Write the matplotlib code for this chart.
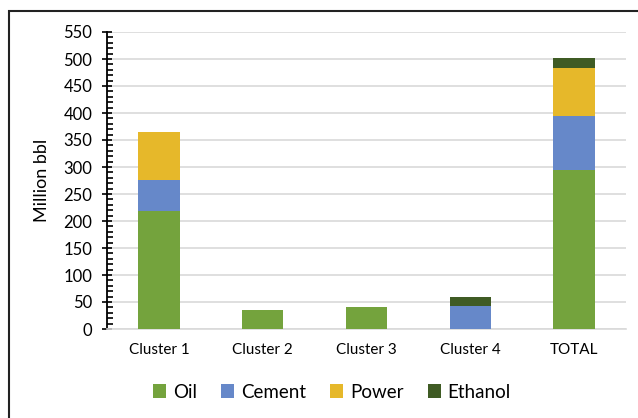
import numpy as np
import matplotlib
matplotlib.use("Agg")
import matplotlib.pyplot as plt
from matplotlib.ticker import MultipleLocator
from matplotlib.patches import Rectangle

categories = ["Cluster 1", "Cluster 2", "Cluster 3", "Cluster 4", "TOTAL"]
oil = [219, 35, 40, 0, 294]
cement = [57, 0, 0, 43, 101]
power = [89, 0, 0, 0, 88]
ethanol = [0, 0, 0, 17, 19]

series = ["Oil", "Cement", "Power", "Ethanol"]
colors = ["#74A33D", "#6688C9", "#E6B82A", "#3F5B24"]

plt.rcParams['font.family'] = ['Lato', 'DejaVu Sans']

fig = plt.figure(figsize=(6.38, 4.18), dpi=100)
W, H = 638, 418
ax = fig.add_axes([107 / W, 1 - 329 / H, (626 - 107) / W, (329 - 32) / H])

x = np.arange(len(categories))
bottom = np.zeros(len(categories))
for name, vals, c in zip(series, [oil, cement, power, ethanol], colors):
    ax.bar(x, vals, 0.4, bottom=bottom, color=c, label=name, zorder=3)
    bottom += np.array(vals)

ax.set_xlim(-0.5, 4.5)
ax.set_ylim(0, 550)
ax.yaxis.set_major_locator(MultipleLocator(50))
ax.yaxis.set_minor_locator(MultipleLocator(10))
ax.grid(axis='y', color='#D9D9D9', linewidth=1.2, zorder=0)
ax.set_xticks(x)
ax.set_xticklabels(categories, fontsize=11)
ax.tick_params(axis='x', length=0, pad=10)
ax.tick_params(axis='y', which='major', direction='inout', length=7, width=1.2, labelsize=12, pad=7)
ax.tick_params(axis='y', which='minor', direction='in', length=4, width=1.2)
for s in ['top', 'right']:
    ax.spines[s].set_visible(False)
ax.spines['bottom'].set_color('#D9D9D9')
ax.spines['bottom'].set_linewidth(1.2)
ax.spines['left'].set_linewidth(1.3)
ax.set_ylabel("Million bbl", fontsize=13, labelpad=10)

fig.legend(loc='center', bbox_to_anchor=(332 / W, 1 - 392 / H), ncol=4, frameon=False,
           fontsize=13.5, handlelength=0.7, handleheight=0.7, handletextpad=0.35, columnspacing=1.3)

fig.patches.append(Rectangle((9 / W, -0.01), 1.0, 1 - 11 / H + 0.01, transform=fig.transFigure,
                             fill=False, edgecolor='#222222', linewidth=1.5))

fig.savefig("out.png", dpi=100)
